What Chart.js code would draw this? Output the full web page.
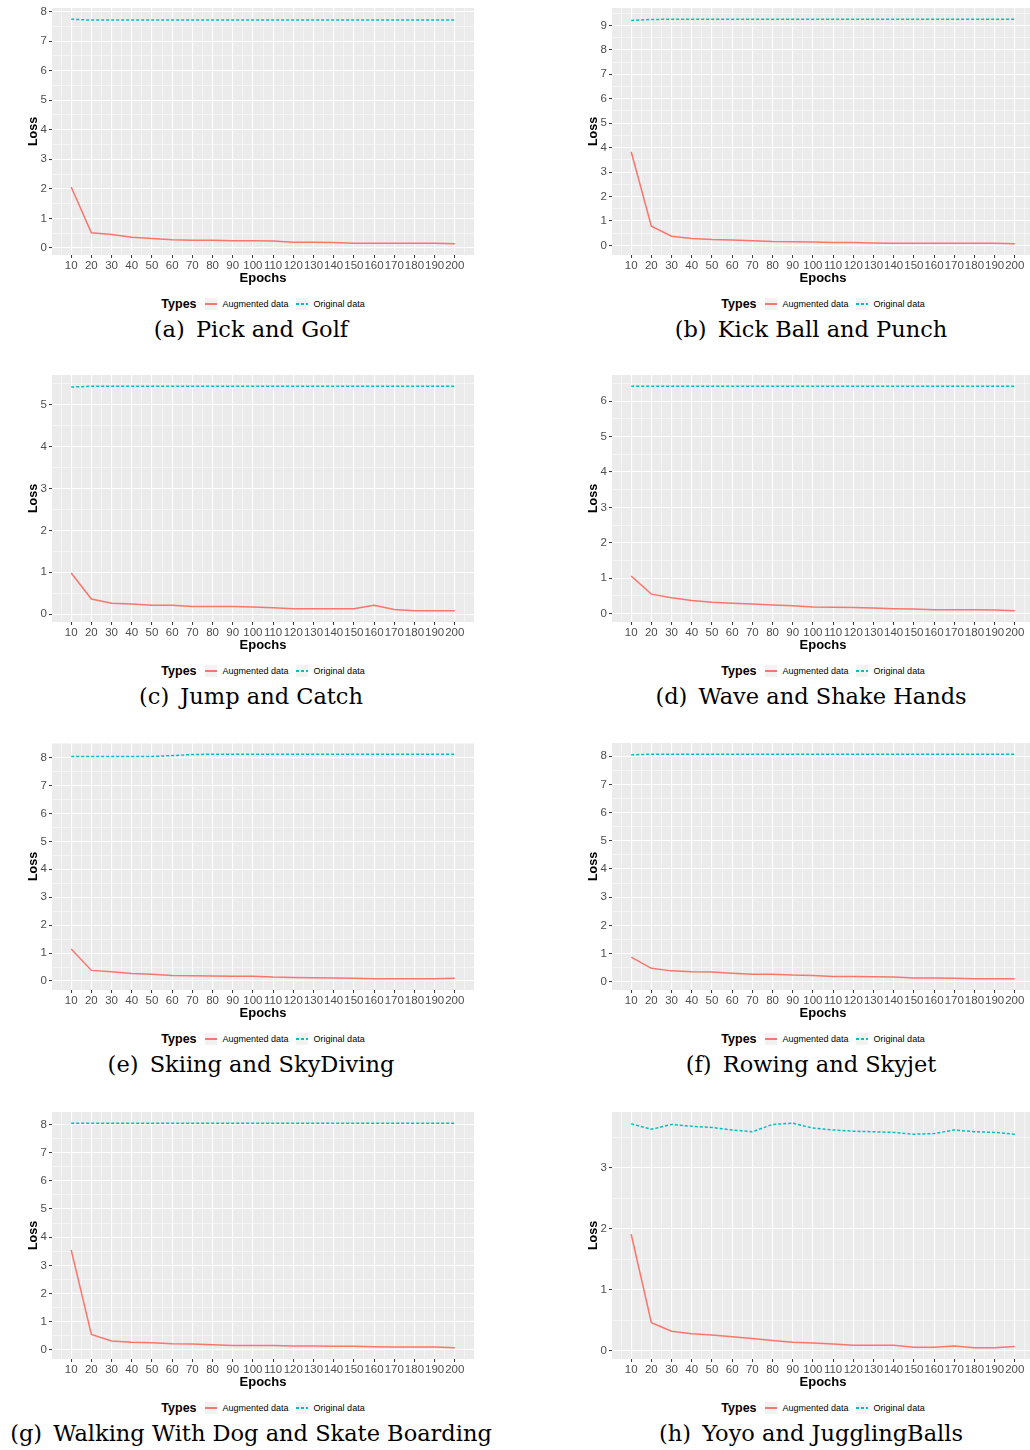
<!DOCTYPE html>
<html>
<head>
<meta charset="utf-8">
<script src="https://cdn.jsdelivr.net/npm/chart.js@4.4.1/dist/chart.umd.min.js"></script>
<style>
  html, body { margin: 0; padding: 0; background: #fff; width: 1030px; height: 1450px; overflow: hidden; }
  .cell { position: absolute; width: 480px; height: 350px; }
  .cell canvas { position: absolute; left: 0; top: 0; }
  .legend { position: absolute; left: 52px; width: 422px; top: 296px; height: 16px; display: flex; justify-content: center; align-items: center; font-family: "Liberation Sans", Arial, sans-serif; color: #000; }
  .legend .ttl { font-weight: bold; font-size: 12.5px; margin-right: 8px; }
  .key { width: 12px; height: 12px; background: #F2F2F2; position: relative; margin-right: 6px; }
  .key i { position: absolute; left: 0; right: 0; top: 5.3px; height: 1.5px; }
  .lab { font-size: 9px; margin-right: 7px; }
  .lab:last-child { margin-right: 0; }
  .caption { position: absolute; left: 0; top: 316px; width: 502px; line-height: 26px; text-align: center; font-family: "DejaVu Serif", serif; font-size: 22.5px; color: #000; white-space: nowrap; }
  .caption .gap { display: inline-block; width: 4px; }
</style>
</head>
<body>
<script>
const epochs = [10, 20, 30, 40, 50, 60, 70, 80, 90, 100, 110, 120, 130, 140, 150, 160, 170, 180, 190, 200];

const seriesNames = ["Augmented data", "Original data"];
const seriesColors = ["#F8766D", "#00BFC4"];

const captionLetters = ["(a)", "(b)", "(c)", "(d)", "(e)", "(f)", "(g)", "(h)"];
const captionTitles = ["Pick and Golf", "Kick Ball and Punch", "Jump and Catch", "Wave and Shake Hands",
  "Skiing and SkyDiving", "Rowing and Skyjet", "Walking With Dog and Skate Boarding", "Yoyo and JugglingBalls"];

// loss per epoch
const augPickGolf = [2.06, 0.51, 0.45, 0.36, 0.32, 0.28, 0.26, 0.26, 0.24, 0.24, 0.23, 0.19, 0.19, 0.18, 0.16, 0.16, 0.16, 0.16, 0.16, 0.14];
const origPickGolf = [7.74, 7.71, 7.71, 7.71, 7.71, 7.71, 7.71, 7.71, 7.71, 7.71, 7.71, 7.71, 7.71, 7.71, 7.71, 7.71, 7.71, 7.71, 7.71, 7.71];

const augKickPunch = [3.83, 0.79, 0.38, 0.29, 0.24, 0.22, 0.19, 0.16, 0.15, 0.14, 0.12, 0.12, 0.10, 0.09, 0.09, 0.09, 0.09, 0.09, 0.09, 0.07];
const origKickPunch = [9.20, 9.24, 9.25, 9.25, 9.25, 9.25, 9.25, 9.25, 9.25, 9.25, 9.25, 9.25, 9.25, 9.25, 9.25, 9.25, 9.25, 9.25, 9.25, 9.25];

const augJumpCatch = [0.98, 0.36, 0.26, 0.24, 0.21, 0.21, 0.18, 0.18, 0.18, 0.17, 0.15, 0.13, 0.13, 0.13, 0.13, 0.21, 0.11, 0.08, 0.08, 0.08];
const origJumpCatch = [5.42, 5.44, 5.44, 5.44, 5.44, 5.44, 5.44, 5.44, 5.44, 5.44, 5.44, 5.44, 5.44, 5.44, 5.44, 5.44, 5.44, 5.44, 5.44, 5.44];

const augWaveShake = [1.06, 0.55, 0.45, 0.37, 0.32, 0.29, 0.27, 0.24, 0.22, 0.19, 0.18, 0.17, 0.16, 0.14, 0.13, 0.11, 0.11, 0.11, 0.10, 0.08];
const origWaveShake = [6.42, 6.42, 6.42, 6.42, 6.42, 6.42, 6.42, 6.42, 6.42, 6.42, 6.42, 6.42, 6.42, 6.42, 6.42, 6.42, 6.42, 6.42, 6.42, 6.42];

const augSkiDive = [1.15, 0.38, 0.33, 0.27, 0.24, 0.20, 0.19, 0.18, 0.17, 0.17, 0.14, 0.13, 0.12, 0.11, 0.10, 0.08, 0.08, 0.08, 0.08, 0.10];
const origSkiDive = [8.04, 8.04, 8.04, 8.04, 8.04, 8.07, 8.11, 8.12, 8.12, 8.12, 8.12, 8.12, 8.12, 8.12, 8.12, 8.12, 8.12, 8.12, 8.12, 8.12];

const augRowSky = [0.88, 0.48, 0.39, 0.36, 0.35, 0.31, 0.27, 0.27, 0.24, 0.23, 0.19, 0.19, 0.18, 0.17, 0.14, 0.14, 0.13, 0.11, 0.11, 0.11];
const origRowSky = [8.05, 8.07, 8.07, 8.07, 8.07, 8.07, 8.07, 8.07, 8.07, 8.07, 8.07, 8.07, 8.07, 8.07, 8.07, 8.07, 8.07, 8.07, 8.07, 8.07];

const augWalkSkate = [3.55, 0.55, 0.32, 0.28, 0.26, 0.22, 0.21, 0.19, 0.16, 0.16, 0.16, 0.14, 0.14, 0.13, 0.13, 0.12, 0.11, 0.11, 0.11, 0.08];
const origWalkSkate = [8.04, 8.04, 8.04, 8.04, 8.04, 8.04, 8.04, 8.04, 8.04, 8.04, 8.04, 8.04, 8.04, 8.04, 8.04, 8.04, 8.04, 8.04, 8.04, 8.04];

const augYoyoJuggle = [1.91, 0.46, 0.32, 0.28, 0.26, 0.23, 0.20, 0.17, 0.14, 0.13, 0.11, 0.09, 0.09, 0.09, 0.06, 0.06, 0.08, 0.05, 0.05, 0.07];
const origYoyoJuggle = [3.72, 3.63, 3.71, 3.68, 3.66, 3.62, 3.59, 3.71, 3.73, 3.65, 3.62, 3.60, 3.59, 3.58, 3.55, 3.56, 3.62, 3.59, 3.58, 3.55];

const panels = [
  [augPickGolf, origPickGolf], [augKickPunch, origKickPunch],
  [augJumpCatch, origJumpCatch], [augWaveShake, origWaveShake],
  [augSkiDive, origSkiDive], [augRowSky, origRowSky],
  [augWalkSkate, origWalkSkate], [augYoyoJuggle, origYoyoJuggle]
];

const rowTop = [0, 367, 735, 1104];
const colLeft = [0, 560];
const sans = "'Liberation Sans', Arial, sans-serif";

// ggplot-like: 5% expansion, minor breaks halfway between majors
const xSpan = epochs[epochs.length - 1] - epochs[0];
const xMin = epochs[0] - xSpan * 0.05;
const xMax = epochs[epochs.length - 1] + xSpan * 0.05;
const xStep = epochs[1] - epochs[0];
const xGrid = [];
for (let v = epochs[0] - xStep / 2; v <= xMax; v += xStep / 2) {
  if (v >= xMin) xGrid.push(v);
}
const isXMajor = (v) => epochs.includes(v);

const panelBg = {
  id: "panelBg",
  beforeDraw(chart) {
    const { ctx, chartArea: a } = chart;
    ctx.save();
    ctx.fillStyle = "#EBEBEB";
    ctx.fillRect(a.left, a.top, a.right - a.left, a.bottom - a.top);
    ctx.restore();
  }
};

function drawLoss(canvas, aug, orig) {
  const all = aug.concat(orig);
  const lo = Math.min(...all);
  const hi = Math.max(...all);
  const pad = (hi - lo) * 0.05;

  new Chart(canvas, {
    type: "line",
    data: {
      datasets: [
        {
          label: seriesNames[0],
          data: epochs.map((e, k) => ({ x: e, y: aug[k] })),
          borderColor: seriesColors[0],
          borderWidth: 1.5,
          pointRadius: 0,
          fill: false
        },
        {
          label: seriesNames[1],
          data: epochs.map((e, k) => ({ x: e, y: orig[k] })),
          borderColor: seriesColors[1],
          borderWidth: 1.5,
          borderDash: [3, 2],
          pointRadius: 0,
          fill: false
        }
      ]
    },
    options: {
      responsive: false,
      animation: false,
      events: [],
      layout: { padding: { top: 8, right: 6, left: 0, bottom: 0 } },
      plugins: { legend: { display: false }, tooltip: { enabled: false } },
      scales: {
        x: {
          type: "linear",
          min: xMin,
          max: xMax,
          afterBuildTicks: (axis) => { axis.ticks = xGrid.map((v) => ({ value: v })); },
          afterFit: (axis) => { axis.height = 35; axis.paddingLeft = 0; axis.paddingRight = 0; },
          border: { display: false },
          grid: {
            color: "#FFFFFF",
            lineWidth: (c) => (c.tick && isXMajor(c.tick.value) ? 1.1 : 0.5),
            tickColor: (c) => (c.tick && isXMajor(c.tick.value) ? "#333333" : "rgba(0,0,0,0)"),
            tickLength: 3,
            tickWidth: 1
          },
          ticks: {
            autoSkip: false,
            maxRotation: 0,
            minRotation: 0,
            padding: 1,
            color: "#4D4D4D",
            font: { family: sans, size: 11.5 },
            callback: (v) => (isXMajor(v) ? v : "")
          },
          title: {
            display: true,
            text: "Epochs",
            color: "#000",
            font: { family: sans, size: 13, weight: "bold" },
            padding: { top: 0, bottom: 4 }
          }
        },
        y: {
          min: lo - pad,
          max: hi + pad,
          afterBuildTicks: (axis) => {
            const t = [];
            for (let v = Math.ceil(axis.min * 2) / 2; v <= axis.max; v += 0.5) t.push({ value: v });
            axis.ticks = t;
          },
          afterFit: (axis) => { axis.width = 52; axis.paddingTop = 0; axis.paddingBottom = 0; },
          border: { display: false },
          grid: {
            color: "#FFFFFF",
            lineWidth: (c) => (c.tick && Number.isInteger(c.tick.value) ? 1.1 : 0.5),
            tickColor: (c) => (c.tick && Number.isInteger(c.tick.value) ? "#333333" : "rgba(0,0,0,0)"),
            tickLength: 3,
            tickWidth: 1
          },
          ticks: {
            autoSkip: false,
            padding: 2,
            color: "#4D4D4D",
            font: { family: sans, size: 11.5 },
            callback: (v) => (Number.isInteger(v) ? String(Math.abs(v)) : "")
          },
          title: {
            display: true,
            text: "Loss",
            color: "#000",
            font: { family: sans, size: 12.5, weight: "bold" },
            padding: { top: 26, bottom: 0 }
          }
        }
      }
    },
    plugins: [panelBg]
  });
}

function legendHtml() {
  const keys = [
    `background:${seriesColors[0]}`,
    `background:repeating-linear-gradient(90deg, ${seriesColors[1]} 0 3px, transparent 3px 5px)`
  ];
  let html = `<span class="ttl">Types</span>`;
  seriesNames.forEach((name, k) => {
    html += `<span class="key"><i style="${keys[k]}"></i></span><span class="lab">${name}</span>`;
  });
  return html;
}

panels.forEach((pair, i) => {
  const cell = document.createElement("div");
  cell.className = "cell";
  cell.style.left = colLeft[i % 2] + "px";
  cell.style.top = rowTop[Math.floor(i / 2)] + "px";
  cell.innerHTML =
    `<canvas width="480" height="290"></canvas>` +
    `<div class="legend">${legendHtml()}</div>` +
    `<div class="caption">${captionLetters[i]}<span class="gap"></span> ${captionTitles[i]}</div>`;
  document.body.appendChild(cell);
  drawLoss(cell.querySelector("canvas"), pair[0], pair[1]);
});
</script>
</body>
</html>
